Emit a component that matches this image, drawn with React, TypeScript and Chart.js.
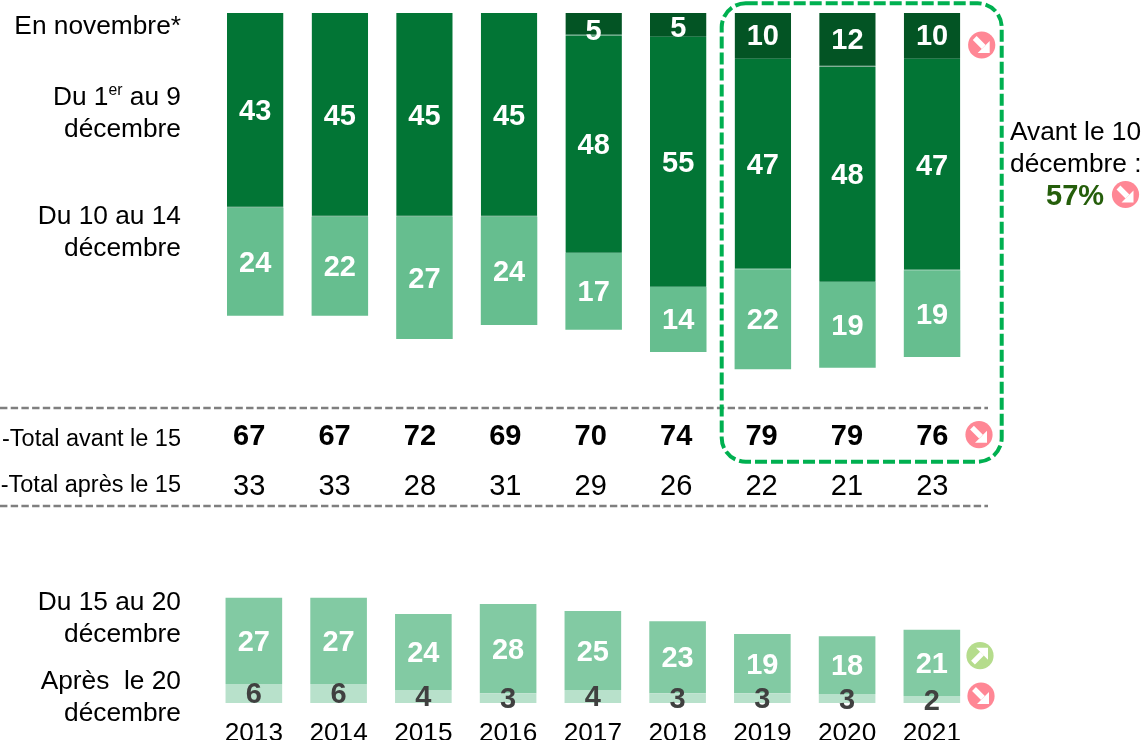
import React, { useEffect, useRef } from "react";
import { Chart, registerables } from "chart.js";

Chart.register(...registerables);

const years = ["2013", "2014", "2015", "2016", "2017", "2018", "2019", "2020", "2021"];
const novembre = [null, null, null, null, 4.9, 5.3, 10.2, 11.9, 10.2];
const du1au9 = [43.1, 45.1, 45.1, 45.1, 48.2, 55.3, 46.5, 47.6, 46.7];
const du10au14 = [23.9, 21.9, 27, 23.9, 17, 14.4, 22.1, 19, 19.2];
const du15au20 = [27.1, 27.1, 23.9, 28, 24.8, 22.6, 18.6, 18.2, 20.8];
const apres20 = [6, 6, 4.1, 3.1, 4.1, 3.1, 3.1, 2.8, 2.2];
const totalAvant = [67, 67, 72, 69, 70, 74, 79, 79, 76];
const totalApres = [33, 33, 28, 31, 29, 26, 22, 21, 23];

const FONT = '"Liberation Sans", Arial, sans-serif';

const valueLabels = {
  id: "valueLabels",
  afterDatasetsDraw(chart: any) {
    const ctx = chart.ctx;
    ctx.save();
    ctx.textAlign = "center";
    ctx.textBaseline = "middle";
    ctx.font = `bold 29px ${FONT}`;
    chart.data.datasets.forEach((ds: any, di: number) => {
      const meta = chart.getDatasetMeta(di);
      meta.data.forEach((bar: any, i: number) => {
        const v = ds.data[i];
        if (v == null) return;
        const p = bar.getProps(["x", "y", "base"], true);
        const nudge = ds.labelNudge ? ds.labelNudge[i] : 0;
        ctx.fillStyle = ds.labelColor;
        ctx.fillText(String(Math.round(v)), p.x, (p.y + p.base) / 2 + 2 + nudge);
      });
    });
    ctx.restore();
  },
};

function useBarChart(ref: React.RefObject<HTMLCanvasElement | null>, make: () => any) {
  useEffect(() => {
    if (!ref.current) return;
    const chart = new Chart(ref.current, make());
    return () => chart.destroy();
  }, []);
}

function Txt({ x, y, w, align = "right", size = 26.3, bold = false, color = "#000", children }: any) {
  return (
    <div
      style={{
        position: "absolute",
        left: x,
        top: y,
        width: w,
        transform: "translateY(-50%)",
        textAlign: align,
        fontFamily: FONT,
        fontSize: size,
        fontWeight: bold ? 700 : 400,
        color,
        lineHeight: "32px",
        whiteSpace: "pre",
      }}
    >
      {children}
    </div>
  );
}

function Arrow({ x, y, up = false }: { x: number; y: number; up?: boolean }) {
  return (
    <g transform={`translate(${x} ${y}) rotate(${up ? -90 : 0})`}>
      <circle r={13.6} fill={up ? "#B5DC8C" : "#FF8795"} />
      <line x1={-7} y1={-7} x2={2} y2={2} stroke="#fff" strokeWidth={5.4} />
      <polygon points="8,8 8,-4 -4,8" fill="#fff" />
    </g>
  );
}

const seam = { top: 0, left: 0, right: 0, bottom: 1 };

export default function App() {
  const topRef = useRef<HTMLCanvasElement>(null);
  const botRef = useRef<HTMLCanvasElement>(null);

  useBarChart(topRef, () => ({
    type: "bar",
    data: {
      labels: years,
      datasets: [
        {
          label: "En novembre*",
          data: novembre,
          backgroundColor: "#035424",
          borderColor: "#2E7A50",
          borderWidth: seam,
          borderSkipped: false,
          labelColor: "#fff",
          labelNudge: [0, 0, 0, 0, 6, 2.5, -1, -1, -1],
        },
        {
          label: "Du 1er au 9 décembre",
          data: du1au9,
          backgroundColor: "#027535",
          borderColor: "#3C9566",
          borderWidth: seam,
          borderSkipped: false,
          labelColor: "#fff",
        },
        { label: "Du 10 au 14 décembre", data: du10au14, backgroundColor: "#66BE8F", labelColor: "#fff" },
      ],
    },
    options: {
      animation: false,
      responsive: false,
      layout: { padding: { left: 212.95, right: 170.65, top: 13, bottom: 2.8 } },
      datasets: { bar: { categoryPercentage: 1, barPercentage: 0.668 } },
      plugins: { legend: { display: false }, tooltip: { enabled: false } },
      scales: {
        x: { display: false, stacked: true },
        y: { display: false, stacked: true, reverse: true, min: 0, max: 85 },
      },
    },
    plugins: [valueLabels],
  }));

  useBarChart(botRef, () => ({
    type: "bar",
    data: {
      labels: years,
      datasets: [
        { label: "Après le 20 décembre", data: apres20, backgroundColor: "#B8E1CB", labelColor: "#404040" },
        { label: "Du 15 au 20 décembre", data: du15au20, backgroundColor: "#82CAA3", labelColor: "#fff" },
      ],
    },
    options: {
      animation: false,
      responsive: false,
      layout: { padding: { left: 211.475, right: 170.775, top: 31.7, bottom: 0 } },
      datasets: { bar: { categoryPercentage: 1, barPercentage: 0.668 } },
      plugins: { legend: { display: false }, tooltip: { enabled: false } },
      scales: {
        x: {
          stacked: true,
          border: { display: false },
          grid: { display: false, drawTicks: false },
          afterFit: (s: any) => {
            s.height = 37;
          },
          ticks: {
            padding: 15,
            maxRotation: 0,
            autoSkip: false,
            color: "#000",
            font: { family: FONT, size: 26.2 },
          },
        },
        y: { display: false, stacked: true, min: 0, max: 35 },
      },
    },
    plugins: [valueLabels],
  }));

  const tableX = (i: number) => 249.2 + 85.39 * i;

  return (
    <div style={{ position: "fixed", left: 0, top: 0, width: 1145, height: 740, overflow: "hidden", background: "#fff" }}>
      <canvas ref={topRef} width={1145} height={400} style={{ position: "absolute", left: 0, top: 0, display: "block" }} />
      <canvas ref={botRef} width={1145} height={180} style={{ position: "absolute", left: 0, top: 560, display: "block" }} />

      <svg width={1145} height={740} style={{ position: "absolute", left: 0, top: 0 }}>
        <line x1={0} y1={408} x2={988} y2={408} stroke="#7F7F7F" strokeWidth={2.5} strokeDasharray="7.4 3.3" />
        <line x1={0} y1={506} x2={988} y2={506} stroke="#7F7F7F" strokeWidth={2.5} strokeDasharray="7.4 3.3" />
        <rect x={721.7} y={3.3} width={280} height={458.4} rx={24} ry={24} fill="none" stroke="#00B050" strokeWidth={4} strokeDasharray="12 4" />
        <Arrow x={981.7} y={45} />
        <Arrow x={1125.5} y={194.5} />
        <Arrow x={979} y={434.7} />
        <Arrow x={980} y={655.7} up />
        <Arrow x={981} y={696} />
      </svg>

      <Txt x={0} y={25} w={181}>En novembre*</Txt>
      <Txt x={0} y={96} w={181}>
        Du 1<sup style={{ fontSize: "60%", lineHeight: 0 }}>er</sup> au 9
      </Txt>
      <Txt x={0} y={128} w={181}>décembre</Txt>
      <Txt x={0} y={215} w={181}>Du 10 au 14</Txt>
      <Txt x={0} y={247} w={181}>décembre</Txt>
      <Txt x={0} y={601} w={181}>Du 15 au 20</Txt>
      <Txt x={0} y={633} w={181}>décembre</Txt>
      <Txt x={0} y={680} w={181}>Après  le 20</Txt>
      <Txt x={0} y={712} w={181}>décembre</Txt>

      <Txt x={0} y={438} w={181} size={23.5}>-Total avant le 15</Txt>
      <Txt x={0} y={484} w={181} size={23.5}>-Total après le 15</Txt>

      {totalAvant.map((v, i) => (
        <Txt key={"a" + i} x={tableX(i) - 40} y={435} w={80} align="center" size={29} bold>{v}</Txt>
      ))}
      {totalApres.map((v, i) => (
        <Txt key={"b" + i} x={tableX(i) - 40} y={485} w={80} align="center" size={29}>{v}</Txt>
      ))}

      <Txt x={1010} y={131} w={135} align="left">Avant le 10</Txt>
      <Txt x={1010} y={163} w={135} align="left">décembre :</Txt>
      <Txt x={1046} y={195} w={70} align="left" size={29} bold color="#255E0B">57%</Txt>
    </div>
  );
}
